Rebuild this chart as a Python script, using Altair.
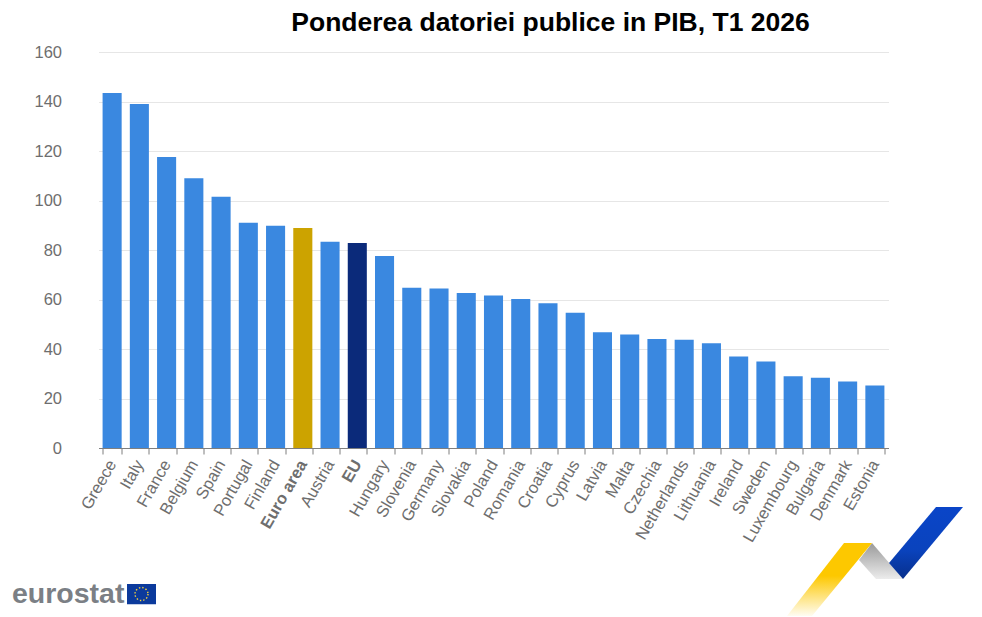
import altair as alt
import pandas as pd
import urllib.parse

countries = ["Greece","Italy","France","Belgium","Spain","Portugal","Finland","Euro area","Austria","EU",
             "Hungary","Slovenia","Germany","Slovakia","Poland","Romania","Croatia","Cyprus","Latvia","Malta",
             "Czechia","Netherlands","Lithuania","Ireland","Sweden","Luxembourg","Bulgaria","Denmark","Estonia"]
values = [143.4,139.0,117.6,109.0,101.5,91.0,89.8,88.9,83.3,82.8,
          77.6,64.7,64.4,62.6,61.6,60.2,58.5,54.6,46.8,45.9,
          44.0,43.7,42.3,37.0,35.0,29.0,28.4,26.9,25.3]
groups = ["EA" if c == "Euro area" else "EU" if c == "EU" else "Country" for c in countries]
df = pd.DataFrame({"country": countries, "value": values, "group": groups})

W, H = 790, 396
bold = "datum.value == 'Euro area' || datum.value == 'EU'"

bars = alt.Chart(df).mark_bar().encode(
    x=alt.X("country:N", sort=countries, title=None,
            scale=alt.Scale(paddingInner=0.3, paddingOuter=0.15),
            axis=alt.Axis(labelAngle=-60, labelAlign="right", labelBaseline="middle",
                          labelFontSize=16.5, labelColor="#6e6e6e", labelFont="Liberation Sans",
                          labelPadding=7, labelOverlap=False, labelLimit=200,
                          labelFontWeight=alt.condition(bold, alt.value("bold"), alt.value("normal")),
                          domainColor="#7f7f7f", tickColor="#7f7f7f", tickSize=6, tickBand="extent",
                          grid=False)),
    y=alt.Y("value:Q", title=None,
            scale=alt.Scale(domain=[0, 160], nice=False),
            axis=alt.Axis(values=[0,20,40,60,80,100,120,140,160], domain=False, ticks=False,
                          labelFontSize=16.5, labelColor="#6e6e6e", labelFont="Liberation Sans",
                          labelPadding=37, gridColor="#e6e6e6")),
    color=alt.Color("group:N", legend=None,
                    scale=alt.Scale(domain=["Country","EA","EU"], range=["#3a88e0","#cca300","#0b2a7a"])),
)

blank = alt.Data(values=[{"label": "eurostat"}])
wordmark = alt.Chart(blank).mark_text(font="Liberation Sans", fontWeight="bold", fontSize=28.5,
                                      color="#7b7f85", align="left", baseline="alphabetic").encode(
    x=alt.value(12 - 98.5), y=alt.value(603 - 52), text="label:N")

flag_svg = ('<svg xmlns="http://www.w3.org/2000/svg" width="29" height="21" viewBox="0 0 29 21">'
            '<rect width="29" height="21" fill="#0b3a9c"/>'
            '<circle cx="14.5" cy="10.5" r="6.5" fill="none" stroke="#f6d23c" stroke-width="1.4" stroke-dasharray="1.4 2"/>'
            '</svg>')
ribbon_svg = ('<svg xmlns="http://www.w3.org/2000/svg" width="190" height="120" viewBox="780 500 190 120">'
              '<defs>'
              '<linearGradient id="y" x1="0" y1="0" x2="0" y2="1"><stop offset="0.45" stop-color="#fdc800"/>'
              '<stop offset="1" stop-color="#fdc800" stop-opacity="0.05"/></linearGradient>'
              '<linearGradient id="g" x1="0" y1="0" x2="0" y2="1"><stop offset="0" stop-color="#9a9a9a"/>'
              '<stop offset="1" stop-color="#ececec"/></linearGradient>'
              '<linearGradient id="b" x1="0" y1="1" x2="0" y2="0"><stop offset="0" stop-color="#082f8c"/>'
              '<stop offset="0.4" stop-color="#0a43bd"/><stop offset="1" stop-color="#0a45c8"/></linearGradient>'
              '</defs>'
              '<polygon points="872,543 903,579 876,579 859,560" fill="url(#g)"/>'
              '<polygon points="844,543 872,543 812,616 787,616" fill="url(#y)"/>'
              '<polygon points="936,507 963,507 903,579 889,563" fill="url(#b)"/>'
              '</svg>')

def uri(svg):
    return "data:image/svg+xml," + urllib.parse.quote(svg)

flag = alt.Chart(alt.Data(values=[{"u": uri(flag_svg)}])).mark_image(
    width=29, height=21, align="left", baseline="top").encode(
    x=alt.value(127 - 98.5), y=alt.value(583.5 - 52), url="u:N")
ribbon = alt.Chart(alt.Data(values=[{"u": uri(ribbon_svg)}])).mark_image(
    width=190, height=120, align="left", baseline="top").encode(
    x=alt.value(780 - 98.5), y=alt.value(500 - 52), url="u:N")

chart = alt.layer(bars, wordmark, flag, ribbon).properties(
    width=W, height=H,
    padding={"left": 90.5, "top": 44, "right": 80, "bottom": 168},
    autosize=alt.AutoSizeParams(type="none"),
    title=alt.TitleParams("Ponderea datoriei publice in PIB, T1 2026", font="Liberation Sans",
                          fontSize=26.5, fontWeight="bold", color="#000000",
                          anchor="middle", dx=57, offset=8),
).configure_view(stroke=None)

chart.save("out.html", embed_options={"renderer": "svg", "actions": False})
